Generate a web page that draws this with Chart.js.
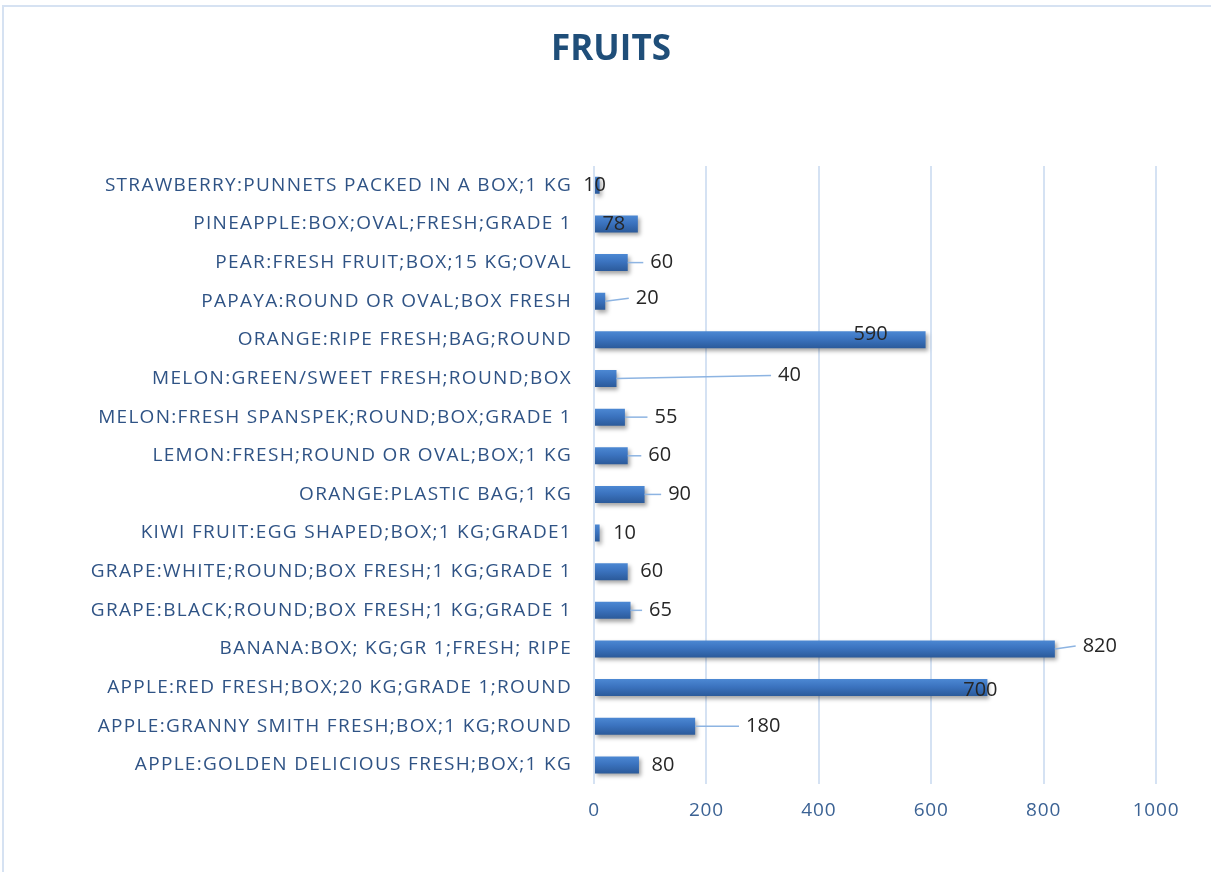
<!DOCTYPE html>
<html>
<head>
<meta charset="utf-8">
<script src="https://cdn.jsdelivr.net/npm/chart.js@4.4.1/dist/chart.umd.min.js"></script>
<style>
  html, body { margin: 0; padding: 0; background: #fff; }
  #wrap { position: absolute; left: 0; top: 0; width: 1211px; height: 872px; }
</style>
</head>
<body>
<div id="wrap"><canvas id="c" width="1211" height="872"></canvas></div>
<script>
const categories = [
  "STRAWBERRY:PUNNETS PACKED IN A BOX;1 KG",
  "PINEAPPLE:BOX;OVAL;FRESH;GRADE 1",
  "PEAR:FRESH FRUIT;BOX;15 KG;OVAL",
  "PAPAYA:ROUND OR OVAL;BOX FRESH",
  "ORANGE:RIPE FRESH;BAG;ROUND",
  "MELON:GREEN/SWEET FRESH;ROUND;BOX",
  "MELON:FRESH SPANSPEK;ROUND;BOX;GRADE 1",
  "LEMON:FRESH;ROUND OR OVAL;BOX;1 KG",
  "ORANGE:PLASTIC BAG;1 KG",
  "KIWI FRUIT:EGG SHAPED;BOX;1 KG;GRADE1",
  "GRAPE:WHITE;ROUND;BOX FRESH;1 KG;GRADE 1",
  "GRAPE:BLACK;ROUND;BOX FRESH;1 KG;GRADE 1",
  "BANANA:BOX; KG;GR 1;FRESH; RIPE",
  "APPLE:RED FRESH;BOX;20 KG;GRADE 1;ROUND",
  "APPLE:GRANNY SMITH FRESH;BOX;1 KG;ROUND",
  "APPLE:GOLDEN DELICIOUS FRESH;BOX;1 KG"
];
const values = [10, 78, 60, 20, 590, 40, 55, 60, 90, 10, 60, 65, 820, 700, 180, 80];
const tickValues = [0, 200, 400, 600, 800, 1000];
const chartTitle = 'FRUITS';

// label placement (style): [dx from bar end, dy from bar centre, leader line?]
const labelPlacement = [
  [-5, 0, false], [-24, 0, false], [34, 0, true], [42, -3, true],
  [-55, -6, false], [173, -3, true], [41, 0, true], [32, 0, true],
  [35, 0, true], [25, 0, false], [24, 0, false], [30, 0, true],
  [45, -3, true], [-7, 3, false], [68, 0, true], [24, 0, false]
];

const bgPlugin = {
  id: 'bg',
  beforeDraw(chart) {
    const ctx = chart.ctx;
    ctx.save();
    ctx.fillStyle = '#ffffff';
    ctx.fillRect(0, 0, chart.width, chart.height);
    ctx.strokeStyle = '#D6E2F2';
    ctx.lineWidth = 2;
    ctx.strokeRect(3, 6, chart.width + 10, chart.height + 10);
    ctx.restore();
  },
  afterDraw(chart) {
    const ctx = chart.ctx;
    ctx.save();
    ctx.font = 'bold 35px "Open Sans"';
    ctx.fillStyle = '#1F4E79';
    ctx.textAlign = 'center';
    ctx.textBaseline = 'middle';
    ctx.fillText(chartTitle, 611, 50);
    ctx.restore();
  }
};

const spacingPlugin = {
  id: 'spacing',
  afterLayout(chart) {
    const wrap = (scale, sp) => {
      if (scale._wrappedLabels) return;
      const orig = scale.drawLabels.bind(scale);
      scale.drawLabels = function (area) {
        const c = this.ctx;
        c.save();
        c.letterSpacing = sp;
        orig(area);
        c.restore();
      };
      scale._wrappedLabels = true;
    };
    wrap(chart.scales.y, '1.3px');
    wrap(chart.scales.x, '0.8px');
  }
};

const shadowPlugin = {
  id: 'shadow',
  beforeDatasetsDraw(chart) {
    const ctx = chart.ctx;
    ctx.save();
    ctx.shadowColor = 'rgba(0,0,0,0.35)';
    ctx.shadowBlur = 4;
    ctx.shadowOffsetX = 2;
    ctx.shadowOffsetY = 3;
  },
  afterDatasetsDraw(chart) {
    chart.ctx.restore();
  }
};

const labelPlugin = {
  id: 'lbls',
  afterDatasetsDraw(chart) {
    const ctx = chart.ctx;
    const meta = chart.getDatasetMeta(0);
    ctx.save();
    ctx.font = '20px "Open Sans"';
    ctx.textBaseline = 'middle';
    ctx.textAlign = 'center';
    meta.data.forEach((bar, i) => {
      const [dx, dy, leader] = labelPlacement[i];
      const txt = String(values[i]);
      const tx = bar.x + dx, ty = bar.y + dy;
      if (leader) {
        const w = ctx.measureText(txt).width;
        ctx.strokeStyle = '#8DB4E2';
        ctx.lineWidth = 1.5;
        ctx.beginPath();
        ctx.moveTo(bar.x, bar.y);
        ctx.lineTo(tx - w / 2 - 7, ty);
        ctx.stroke();
      }
      ctx.fillStyle = '#262626';
      ctx.fillText(txt, tx, ty);
    });
    ctx.restore();
  }
};

const ctx = document.getElementById('c').getContext('2d');
new Chart(ctx, {
  type: 'bar',
  data: {
    labels: categories,
    datasets: [{
      data: values,
      backgroundColor: (c) => {
        const chart = c.chart;
        const ys = chart.scales && chart.scales.y;
        if (!chart.chartArea || !ys || c.dataIndex === undefined) return '#3A70BA';
        const y = ys.getPixelForValue(c.dataIndex);
        const g = chart.ctx.createLinearGradient(0, y - 8.5, 0, y + 8.5);
        g.addColorStop(0, '#4C88D3');
        g.addColorStop(0.45, '#3B73BF');
        g.addColorStop(1, '#2B5A9A');
        return g;
      },
      borderWidth: 0,
      barPercentage: 0.44,
      categoryPercentage: 1.0
    }]
  },
  plugins: [bgPlugin, spacingPlugin, shadowPlugin, labelPlugin],
  options: {
    indexAxis: 'y',
    responsive: false,
    animation: false,
    layout: { padding: { top: 166, right: 55, bottom: 35, left: 0 } },
    plugins: {
      legend: { display: false },
      tooltip: { enabled: false },
      title: { display: false }
    },
    scales: {
      x: {
        min: 0, max: 1000,
        afterBuildTicks: (s) => { s.ticks = tickValues.map(v => ({ value: v })); },
        grid: { color: '#D5E2F3', lineWidth: 2, drawTicks: false },
        border: { display: false },
        ticks: {
          color: '#3B6294',
          font: { family: '"Open Sans"', size: 19 },
          padding: 15,
          callback: (v) => String(v)
        }
      },
      y: {
        afterFit: (s) => { s.width = 594; },
        grid: { display: false, drawTicks: false },
        border: { display: false },
        ticks: {
          color: '#2F5385',
          font: { family: '"Open Sans"', size: 19 },
          padding: 22,
          autoSkip: false
        }
      }
    }
  }
});
</script>
</body>
</html>
